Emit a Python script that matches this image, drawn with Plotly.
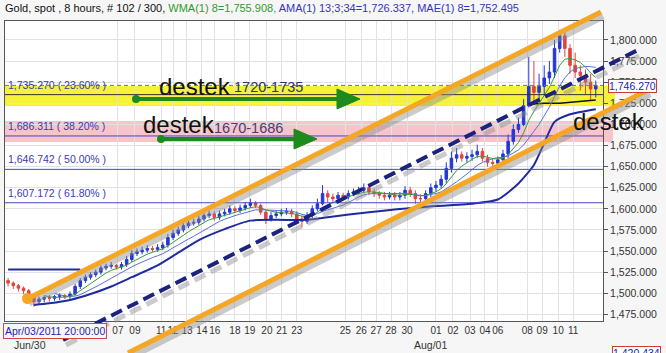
import numpy as np
import plotly.graph_objects as go

# ---------------- data ----------------
closes = [1512, 1509, 1506, 1503, 1498, 1490, 1493, 1495, 1494, 1496,
          1497, 1496, 1499, 1508, 1515, 1519, 1522, 1525, 1530, 1532,
          1533, 1531, 1534, 1540, 1547, 1549, 1551, 1553, 1552, 1554,
          1557, 1566, 1571, 1575, 1580, 1583, 1584, 1588, 1592, 1594,
          1590, 1594, 1596, 1600, 1598, 1601, 1604, 1607, 1604, 1596,
          1588, 1592, 1594, 1596, 1597, 1594, 1588, 1585, 1592, 1600,
          1606, 1618, 1614, 1612, 1616, 1614, 1618, 1620, 1622, 1625,
          1620, 1618, 1616, 1614, 1616, 1614, 1616, 1622, 1618, 1612,
          1612, 1618, 1625, 1628, 1635, 1648, 1660, 1664, 1660, 1662,
          1664, 1668, 1660, 1655, 1654, 1658, 1665, 1680, 1694, 1700,
          1722, 1745, 1738, 1745, 1755, 1762, 1790, 1805, 1790, 1770,
          1762, 1758, 1750, 1742, 1746.27]
opens = [1515, 1512, 1509, 1506, 1503, 1498, 1490, 1493, 1495, 1494,
         1496, 1497, 1496, 1499, 1508, 1515, 1519, 1522, 1525, 1530,
         1532, 1533, 1531, 1534, 1540, 1547, 1549, 1551, 1553, 1552,
         1554, 1557, 1566, 1571, 1575, 1580, 1583, 1584, 1588, 1592,
         1594, 1590, 1594, 1596, 1600, 1598, 1601, 1604, 1607, 1604,
         1596, 1588, 1592, 1594, 1596, 1597, 1594, 1588, 1585, 1592,
         1600, 1606, 1618, 1614, 1612, 1616, 1614, 1618, 1620, 1622,
         1625, 1620, 1618, 1616, 1614, 1616, 1614, 1616, 1622, 1618,
         1612, 1612, 1618, 1625, 1628, 1635, 1648, 1660, 1664, 1660,
         1662, 1664, 1668, 1660, 1655, 1654, 1658, 1665, 1680, 1694,
         1700, 1722, 1745, 1738, 1745, 1755, 1762, 1790, 1805, 1790,
         1770, 1762, 1758, 1750, 1742]
highs = [1518, 1514, 1511, 1508, 1505, 1500, 1496, 1497, 1498, 1498,
         1500, 1499, 1502, 1511, 1518, 1522, 1525, 1528, 1533, 1535,
         1537, 1535, 1537, 1544, 1551, 1553, 1555, 1557, 1556, 1558,
         1561, 1570, 1575, 1579, 1584, 1587, 1588, 1592, 1596, 1598,
         1597, 1598, 1600, 1604, 1603, 1605, 1608, 1612, 1609, 1606,
         1598, 1596, 1598, 1600, 1601, 1600, 1597, 1592, 1596, 1604,
         1612, 1628, 1622, 1618, 1620, 1619, 1622, 1624, 1626, 1630,
         1628, 1624, 1621, 1620, 1620, 1620, 1620, 1627, 1626, 1622,
         1617, 1622, 1630, 1633, 1640, 1655, 1668, 1672, 1668, 1667,
         1670, 1676, 1672, 1664, 1659, 1662, 1670, 1688, 1700, 1708,
         1730, 1780, 1775, 1760, 1770, 1775, 1800, 1812, 1810, 1795,
         1785, 1770, 1765, 1760, 1752]
lows = [1508, 1505, 1502, 1499, 1494, 1484, 1486, 1489, 1490, 1491,
        1492, 1493, 1493, 1497, 1505, 1512, 1516, 1519, 1522, 1527,
        1529, 1528, 1528, 1531, 1537, 1544, 1546, 1548, 1549, 1549,
        1551, 1554, 1563, 1568, 1572, 1577, 1580, 1581, 1585, 1589,
        1586, 1587, 1591, 1593, 1595, 1595, 1598, 1601, 1601, 1593,
        1582, 1585, 1589, 1591, 1593, 1590, 1583, 1578, 1582, 1589,
        1597, 1604, 1608, 1608, 1609, 1610, 1611, 1615, 1617, 1619,
        1616, 1614, 1612, 1610, 1611, 1610, 1610, 1612, 1614, 1606,
        1606, 1608, 1614, 1621, 1624, 1630, 1643, 1655, 1656, 1655,
        1657, 1660, 1656, 1650, 1648, 1650, 1654, 1660, 1676, 1690,
        1698, 1720, 1725, 1728, 1735, 1748, 1755, 1785, 1780, 1760,
        1755, 1740, 1735, 1728, 1732]

ama_x = [5, 8, 12, 16, 20, 24, 29, 33, 37, 42, 47, 58, 62, 70, 80, 88,
         95, 99, 102, 104, 106, 109, 114]
ama_y = [1486, 1488, 1492, 1499, 1508, 1519, 1533, 1548, 1563, 1576, 1586,
         1587, 1590, 1596, 1602, 1605, 1611, 1630, 1652, 1678, 1703, 1712, 1718]
flat_x = [0, 14]
flat_y = [1528, 1528]
black_x = [101, 104, 107, 110, 114]
black_y = [1724, 1725, 1725, 1727, 1729]

tick_pos = [21.3, 24.6, 29.7, 32.0, 34.7, 37.6, 40.1, 44.0, 46.9, 50.2, 53.1,
            56.0, 65.4, 68.5, 71.4, 74.3, 77.4, 83.0, 86.3, 89.6, 92.5, 95.0,
            100.7, 103.6, 106.7, 109.6]
tick_text = ["07", "09", "11", "12", "13", "14", "16", "18", "19", "20", "21",
             "23", "25", "26", "27", "28", "30", "01", "02", "03", "04", "06",
             "08", "09", "10", "11"]
y_ticks = [1475, 1500, 1525, 1550, 1575, 1600, 1625, 1650, 1675, 1700,
           1725, 1750, 1775, 1800]

fib_levels = [1735.270, 1686.311, 1646.742, 1607.172]
fib_pct = ["23.60%", "38.20%", "50.00%", "61.80%"]
last_price = 1746.270
low_label = 1420.434
yellow_zone = [1721.8, 1745.5]
pink_zone = [1679.2, 1704.0]

# ---------------- layout geometry ----------------
W, H = 666, 353
ML, MR, MT, MB = 5, 63, 21, 32
PW, PH = W - ML - MR, H - MT - MB
X0, X1 = -0.6, 115.4
Y0, Y1 = 1467.1, 1822.5


def px(x):  # pixel x -> paper
    return (x - ML) / PW


def py(y):  # pixel y -> paper
    return (H - MB - y) / PH


def yp(price):  # price -> paper
    return (price - Y0) / (Y1 - Y0)


FONT = "Liberation Sans, Arial, sans-serif"

idx = list(range(len(closes)))
c = np.array(closes, float)
w = np.arange(1, 9)
wma = [None] * 7 + [float(np.dot(c[i - 7:i + 1], w) / w.sum()) for i in range(7, len(c))]
sma = [None] * 9 + [float(c[i - 9:i + 1].mean()) for i in range(9, len(c))]

fig = go.Figure()
fig.add_trace(go.Scatter(x=flat_x, y=flat_y, mode="lines",
                         line=dict(color="#1f2a9e", width=2), hoverinfo="skip"))
fig.add_trace(go.Scatter(x=ama_x, y=ama_y, mode="lines", line_shape="spline",
                         line=dict(color="#1f2a9e", width=2, smoothing=0.6),
                         hoverinfo="skip"))
fig.add_trace(go.Scatter(x=black_x, y=black_y, mode="lines",
                         line=dict(color="#111111", width=1.5), hoverinfo="skip"))
fig.add_trace(go.Scatter(x=idx, y=sma, mode="lines",
                         line=dict(color="#5a6fe0", width=1), hoverinfo="skip"))
fig.add_trace(go.Scatter(x=idx, y=wma, mode="lines",
                         line=dict(color="#3a9a3a", width=1), hoverinfo="skip"))
fig.add_trace(go.Candlestick(
    x=idx, open=opens, high=highs, low=lows, close=closes,
    increasing=dict(line=dict(color="#2436d8", width=1), fillcolor="#2436d8"),
    decreasing=dict(line=dict(color="#e0443c", width=1), fillcolor="#e0443c"),
    whiskerwidth=0))

shapes = []
# background bands (behind gridlines / candles)
shapes.append(dict(type="rect", xref="paper", yref="paper", layer="below",
                   x0=px(ML), x1=px(615), y0=yp(yellow_zone[0]), y1=yp(yellow_zone[1]),
                   fillcolor="#f6f23a", line=dict(width=0)))
shapes.append(dict(type="rect", xref="paper", yref="paper", layer="below",
                   x0=px(ML), x1=px(613), y0=yp(pink_zone[0]), y1=yp(pink_zone[1]),
                   fillcolor="#f8c4cb", line=dict(width=0)))
# fib lines
fib_colors = ["#333333", "#4646c4", "#4646c4", "#4646c4"]
for lv, col in zip(fib_levels, fib_colors):
    shapes.append(dict(type="line", xref="paper", yref="y", x0=0, x1=1, y0=lv, y1=lv,
                       line=dict(color=col, width=1)))
shapes.append(dict(type="line", xref="paper", yref="y", x0=0, x1=1,
                   y0=last_price, y1=last_price,
                   line=dict(color="#6a6a8a", width=1, dash="4px,3px")))


def seg(x0, y0, x1, y1, color, width, dash=None):
    ln = dict(color=color, width=width)
    if dash:
        ln["dash"] = dash
    return dict(type="line", xref="paper", yref="paper", layer="above",
                x0=px(x0), y0=py(y0), x1=px(x1), y1=py(y1), line=ln)


shadow = "rgba(140,140,140,0.45)"
# upper orange channel line
shapes.append(seg(29, 303, 603, 16, shadow, 7))
shapes.append(seg(27, 299, 601, 12, "#f5a625", 5))
# lower orange channel line
shapes.append(seg(130, 357, 650, 94, shadow, 7))
shapes.append(seg(128, 353, 648, 90, "#f5a625", 5))
# blue dashed trend line
shapes.append(seg(66, 345, 641, 55, shadow, 5, "12px,6px"))
shapes.append(seg(63, 340, 638, 50, "#1b237e", 4, "12px,6px"))
# orange dot at start
shapes.append(dict(type="circle", xref="paper", yref="paper", layer="above",
                   x0=px(22), x1=px(33), y0=py(304), y1=py(293),
                   fillcolor="#f5a625", line=dict(width=0)))


def arrow(x0, x1, y, color="#1d8a1d"):
    out = []
    base = x1 - 23
    out.append(dict(type="line", xref="paper", yref="paper", layer="above",
                    x0=px(x0), x1=px(base + 2), y0=py(y), y1=py(y),
                    line=dict(color=color, width=4)))
    path = "M {},{} L {},{} L {},{} Z".format(px(base), py(y - 10), px(x1), py(y),
                                            px(base), py(y + 10))
    out.append(dict(type="path", xref="paper", yref="paper", layer="above", path=path,
                    fillcolor=color, line=dict(color=color, width=1)))
    out.append(dict(type="circle", xref="paper", yref="paper", layer="above",
                    x0=px(x0 - 4), x1=px(x0 + 4), y0=py(y + 4), y1=py(y - 4),
                    fillcolor=color, line=dict(width=0)))
    return out


shapes += arrow(136, 360, 99)
shapes += arrow(161, 317, 139)

ann = []
title = ('Gold, spot , 8 hours, # 102 / 300, '
         '<span style="color:#2f9a2f">WMA(1) 8=1,755.908,</span> '
         '<span style="color:#3535b8">AMA(1) 13;3;34=1,726.337, MAE(1) 8=1,752.495</span>')
ann.append(dict(x=px(3), y=py(8), xref="paper", yref="paper", text=title,
                showarrow=False, xanchor="left", yanchor="middle",
                font=dict(family=FONT, size=11, color="#111111")))
for lv, pct in zip(fib_levels, fib_pct):
    ann.append(dict(x=px(6), y=yp(lv) + 10 / PH, xref="paper", yref="paper",
                    text="{:,.3f} ( {} )".format(lv, pct), showarrow=False,
                    xanchor="left", yanchor="middle",
                    font=dict(family=FONT, size=10.5, color="#3a3ab4")))
for txt, x, y, size, col in [("destek", 157, 86, 24, "#111111"),
                             ("1720-1735", 232, 87, 14.5, "#33336e"),
                             ("destek", 141, 124, 24, "#111111"),
                             ("1670-1686", 212, 128, 14.5, "#4b3a7c"),
                             ("destek", 571, 121, 24, "#111111")]:
    ann.append(dict(x=px(x), y=py(y), xref="paper", yref="paper", text=txt,
                    showarrow=False, xanchor="left", yanchor="middle",
                    font=dict(family=FONT, size=size, color=col)))
for txt, x, y in [("{:,.3f}".format(last_price), 632, 86),
                  ("{:,.3f}".format(low_label), 636, 353)]:
    ann.append(dict(x=px(x), y=py(y), xref="paper", yref="paper", text=txt,
                    showarrow=False, xanchor="center", yanchor="middle",
                    bgcolor="#ffffff", bordercolor="#cc3a3a", borderwidth=1, borderpad=0,
                    font=dict(family=FONT, size=10.5, color="#2222aa")))
ann.append(dict(x=px(55), y=py(331), xref="paper", yref="paper",
                text="Apr/03/2011 20:00:00", showarrow=False,
                xanchor="center", yanchor="middle",
                bgcolor="#f6f6f6", bordercolor="#d04848", borderwidth=1, borderpad=1,
                font=dict(family=FONT, size=10.5, color="#2424b0")))
for txt, x in [("Jun/30", 30), ("Aug/01", 430)]:
    ann.append(dict(x=px(x), y=py(345), xref="paper", yref="paper", text=txt,
                    showarrow=False, xanchor="center", yanchor="middle",
                    font=dict(family=FONT, size=10.5, color="#333333")))

fig.update_layout(
    width=W, height=H,
    margin=dict(l=ML, r=MR, t=MT, b=MB, pad=0),
    paper_bgcolor="#f6f6f6", plot_bgcolor="#ffffff",
    showlegend=False, shapes=shapes, annotations=ann,
    font=dict(family=FONT, size=10.5, color="#333333"),
    xaxis=dict(range=[X0, X1], tickmode="array", tickvals=tick_pos, ticktext=tick_text,
               tickangle=0, showgrid=True, gridcolor="#e2e2e2", gridwidth=1,
               zeroline=False, showline=True, mirror=True, linecolor="#555555",
               linewidth=1, ticks="", rangeslider=dict(visible=False),
               tickfont=dict(family=FONT, size=10, color="#333333")),
    yaxis=dict(range=[Y0, Y1], side="right", tickmode="array", tickvals=y_ticks,
               tickformat=",.3f", showgrid=True, gridcolor="#e2e2e2", zeroline=False,
               showline=True, mirror=True, linecolor="#555555", linewidth=1,
               ticks="outside", ticklen=4, tickcolor="#555555",
               tickfont=dict(family=FONT, size=10.5, color="#333333")),
)

fig.write_html("out.html")
